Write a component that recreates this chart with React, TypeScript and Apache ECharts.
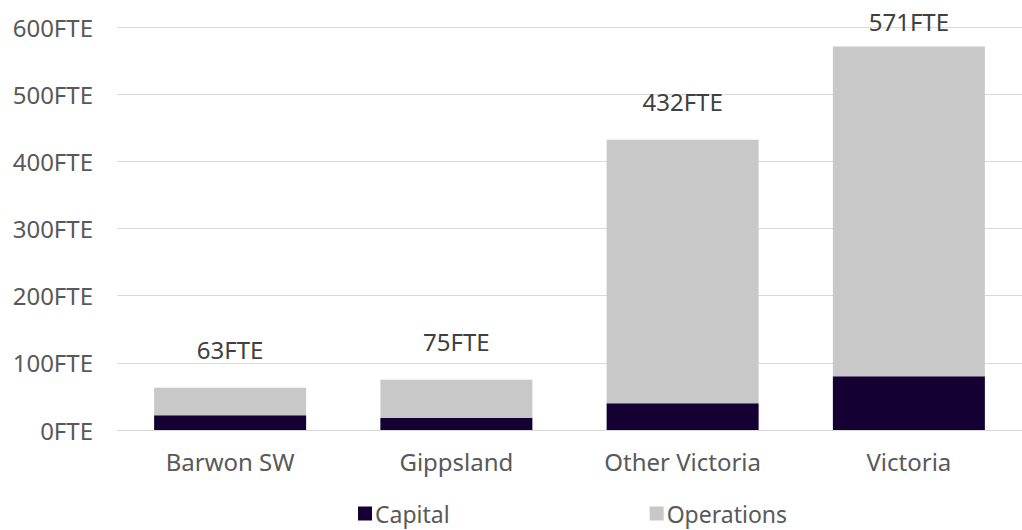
import React, { useEffect, useRef } from "react";
import * as echarts from "echarts";

const categories = ["Barwon SW", "Gippsland", "Other Victoria", "Victoria"];
const capital = [22, 18, 40, 80];
const operations = [41, 57, 392, 491];
const totals = [63, 75, 432, 571];
const yTicks = [0, 100, 200, 300, 400, 500, 600];

const FONT = "'Noto Sans', sans-serif";
const FS = 24;

export default function App() {
  const ref = useRef<HTMLDivElement>(null);
  useEffect(() => {
    const chart = echarts.init(ref.current!, null, { renderer: "svg" });
    chart.setOption({
      animation: false,
      textStyle: { fontFamily: FONT },
      grid: { left: 117, top: 27, width: 912, bottom: 100, containLabel: false },
      legend: {
        left: 358,
        top: 502,
        padding: 0,
        itemWidth: 14,
        itemHeight: 14,
        itemGap: 200,
        icon: "rect",
        textStyle: { fontSize: 23, lineHeight: 22, color: "#595959", fontFamily: FONT, padding: [0, 0, 0, -2] },
        data: ["Capital", "Operations"],
      },
      xAxis: {
        type: "category",
        data: categories,
        axisLine: { lineStyle: { color: "#d9d9d9", width: 1 } },
        axisTick: { show: false },
        axisLabel: { fontSize: FS, color: "#595959", margin: 19, fontFamily: FONT },
      },
      yAxis: {
        type: "value",
        min: yTicks[0],
        max: yTicks[yTicks.length - 1],
        interval: 100,
        axisLine: { show: false },
        axisTick: { show: false },
        splitLine: { lineStyle: { color: "#d9d9d9", width: 1 } },
        axisLabel: { fontSize: FS, color: "#595959", margin: 24, fontFamily: FONT, formatter: (v: number) => v + "FTE" },
      },
      series: [
        {
          name: "Capital",
          type: "bar",
          stack: "total",
          barWidth: 152,
          itemStyle: { color: "#140033" },
          data: capital,
        },
        {
          name: "Operations",
          type: "bar",
          stack: "total",
          barWidth: 152,
          itemStyle: { color: "#c8c8c8" },
          label: {
            show: true,
            position: "top",
            distance: 26,
            fontSize: FS,
            color: "#404040",
            fontFamily: FONT,
            formatter: (p: any) => totals[p.dataIndex] + "FTE",
          },
          data: operations.map((v, i) =>
            i === 3 ? { value: v, label: { distance: 13 } } : v
          ),
        },
      ],
    });
    return () => chart.dispose();
  }, []);
  return <div ref={ref} style={{ position: "absolute", left: 0, top: 0, width: 1022, height: 530 }} />;
}
